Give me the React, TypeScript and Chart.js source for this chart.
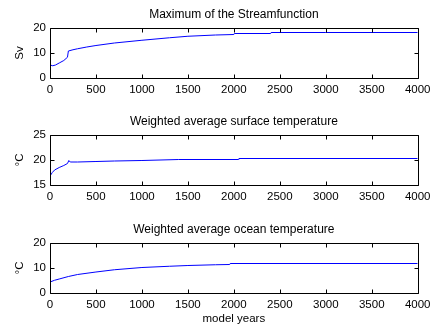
import React, { useEffect, useRef } from "react";
import { Chart, registerables } from "chart.js";

Chart.register(...registerables);

const FONT = '"Liberation Sans", Arial, Helvetica, sans-serif';

// x axis (model years)
const xTickValues = [0, 500, 1000, 1500, 2000, 2500, 3000, 3500, 4000];
const xAxisLabel = "model years";

// Panel 1: Maximum of the Streamfunction (Sv)
const streamYears = [0, 30, 60, 100, 150, 190, 200, 250, 300, 400, 500, 700, 1000, 1300, 1500, 1800, 2000, 2005, 2400, 2405, 3000, 4000];
const streamMax = [5.2, 4.9, 5.2, 6.0, 7.0, 8.3, 10.8, 11.3, 11.7, 12.4, 13.0, 14.0, 15.1, 16.1, 16.7, 17.2, 17.4, 17.8, 17.8, 18.2, 18.2, 18.2];
const streamTicks = [0, 10, 20];

// Panel 2: Weighted average surface temperature (°C)
const surfaceYears = [0, 25, 50, 100, 150, 190, 205, 220, 300, 500, 700, 1000, 1400, 2050, 2055, 4000];
const surfaceTemp = [16.8, 17.5, 18.0, 18.5, 18.9, 19.3, 19.9, 19.6, 19.6, 19.7, 19.8, 19.9, 20.1, 20.1, 20.3, 20.3];
const surfaceTicks = [15, 20, 25];

// Panel 3: Weighted average ocean temperature (°C)
const oceanYears = [0, 50, 100, 200, 300, 500, 700, 1000, 1300, 1500, 1800, 1955, 1960, 4000];
const oceanTemp = [4.4, 5.1, 5.6, 6.6, 7.4, 8.4, 9.3, 10.2, 10.7, 11.0, 11.3, 11.4, 11.8, 11.8];
const oceanTicks = [0, 10, 20];

const panelTitles = [
  "Maximum of the Streamfunction",
  "Weighted average surface temperature",
  "Weighted average ocean temperature",
];
const yAxisLabels = ["Sv", "°C", "°C"];

const TICK_LEN = 4;

const boxPlugin = {
  id: "matlabBox",
  afterDatasetsDraw(chart: any) {
    const { ctx, chartArea, scales } = chart;
    const L = Math.round(chartArea.left) + 0.5;
    const R = Math.round(chartArea.right) + 0.5;
    const T = Math.round(chartArea.top) + 0.5;
    const B = Math.round(chartArea.bottom) + 0.5;
    ctx.save();
    ctx.strokeStyle = "#000";
    ctx.lineWidth = 1;
    ctx.beginPath();
    ctx.rect(L, T, R - L, B - T);
    scales.x.ticks.forEach((t: any) => {
      const px = Math.round(scales.x.getPixelForValue(t.value)) + 0.5;
      ctx.moveTo(px, B);
      ctx.lineTo(px, B - TICK_LEN);
      ctx.moveTo(px, T);
      ctx.lineTo(px, T + TICK_LEN);
    });
    scales.y.ticks.forEach((t: any) => {
      const py = Math.round(scales.y.getPixelForValue(t.value)) + 0.5;
      ctx.moveTo(L, py);
      ctx.lineTo(L + TICK_LEN, py);
      ctx.moveTo(R, py);
      ctx.lineTo(R - TICK_LEN, py);
    });
    ctx.stroke();
    ctx.restore();
  },
};

type PanelProps = {
  top: number;
  height: number;
  title: string;
  yLabel: string;
  xLabel?: string;
  years: number[];
  values: number[];
  yTicks: number[];
};

const PLOT_TOP = 28;
const PLOT_BOTTOM = 78;
const PLOT_LEFT = 50;
const PLOT_RIGHT = 420;
const WIDTH = 435;

function Panel({ top, height, title, yLabel, xLabel, years, values, yTicks }: PanelProps) {
  const ref = useRef<HTMLCanvasElement>(null);
  useEffect(() => {
    const tickFont = { family: FONT, size: 11.5, weight: "normal" as const };
    const chart = new Chart(ref.current as HTMLCanvasElement, {
      type: "line",
      data: {
        datasets: [
          {
            data: years.map((x, i) => ({ x, y: values[i] })),
            borderColor: "#0000ff",
            borderWidth: 1,
            pointRadius: 0,
            tension: 0,
            fill: false,
          },
        ],
      },
      options: {
        animation: false,
        responsive: false,
        events: [],
        layout: { padding: { left: 0, right: WIDTH - PLOT_RIGHT, top: 0, bottom: 0 } },
        plugins: {
          legend: { display: false },
          tooltip: { enabled: false },
          title: {
            display: true,
            text: title,
            fullSize: false,
            color: "#000",
            font: { family: FONT, size: 12, weight: "normal" },
            padding: { top: 7.3, bottom: PLOT_TOP - 7.3 - 14.4 },
          },
        },
        scales: {
          x: {
            type: "linear",
            min: xTickValues[0],
            max: xTickValues[xTickValues.length - 1],
            grid: { display: false, drawTicks: false },
            border: { display: false },
            afterBuildTicks: (s: any) => {
              s.ticks = xTickValues.map((v) => ({ value: v }));
            },
            afterFit: (s: any) => {
              s.height = height - PLOT_BOTTOM;
            },
            ticks: {
              color: "#000",
              font: tickFont,
              padding: 4.5,
              autoSkip: false,
              maxRotation: 0,
              callback: (v: any) => String(v),
            },
            title: xLabel
              ? {
                  display: true,
                  text: xLabel,
                  color: "#000",
                  font: tickFont,
                  padding: { top: 0, bottom: 3.6 },
                }
              : { display: false },
          },
          y: {
            type: "linear",
            min: yTicks[0],
            max: yTicks[yTicks.length - 1],
            grid: { display: false, drawTicks: false },
            border: { display: false },
            afterBuildTicks: (s: any) => {
              s.ticks = yTicks.map((v) => ({ value: v }));
            },
            afterFit: (s: any) => {
              s.width = PLOT_LEFT;
            },
            ticks: {
              color: "#000",
              font: tickFont,
              padding: 4,
              autoSkip: false,
              callback: (v: any) => String(v),
            },
            title: {
              display: true,
              text: yLabel,
              color: "#000",
              font: tickFont,
              padding: { top: 12.8, bottom: 0 },
            },
          },
        },
      } as any,
      plugins: [boxPlugin],
    });
    return () => chart.destroy();
  }, []);
  return (
    <div style={{ position: "absolute", left: 0, top, width: WIDTH, height }}>
      <canvas ref={ref} width={WIDTH} height={height} style={{ display: "block" }} />
    </div>
  );
}

export default function App() {
  return (
    <div
      style={{
        position: "absolute",
        left: 0,
        top: 0,
        width: WIDTH,
        height: 329,
        background: "#fff",
        overflow: "hidden",
      }}
    >
      <Panel top={0} height={107} title={panelTitles[0]} yLabel={yAxisLabels[0]} years={streamYears} values={streamMax} yTicks={streamTicks} />
      <Panel top={107} height={108} title={panelTitles[1]} yLabel={yAxisLabels[1]} years={surfaceYears} values={surfaceTemp} yTicks={surfaceTicks} />
      <Panel top={215} height={114} title={panelTitles[2]} yLabel={yAxisLabels[2]} xLabel={xAxisLabel} years={oceanYears} values={oceanTemp} yTicks={oceanTicks} />
    </div>
  );
}
